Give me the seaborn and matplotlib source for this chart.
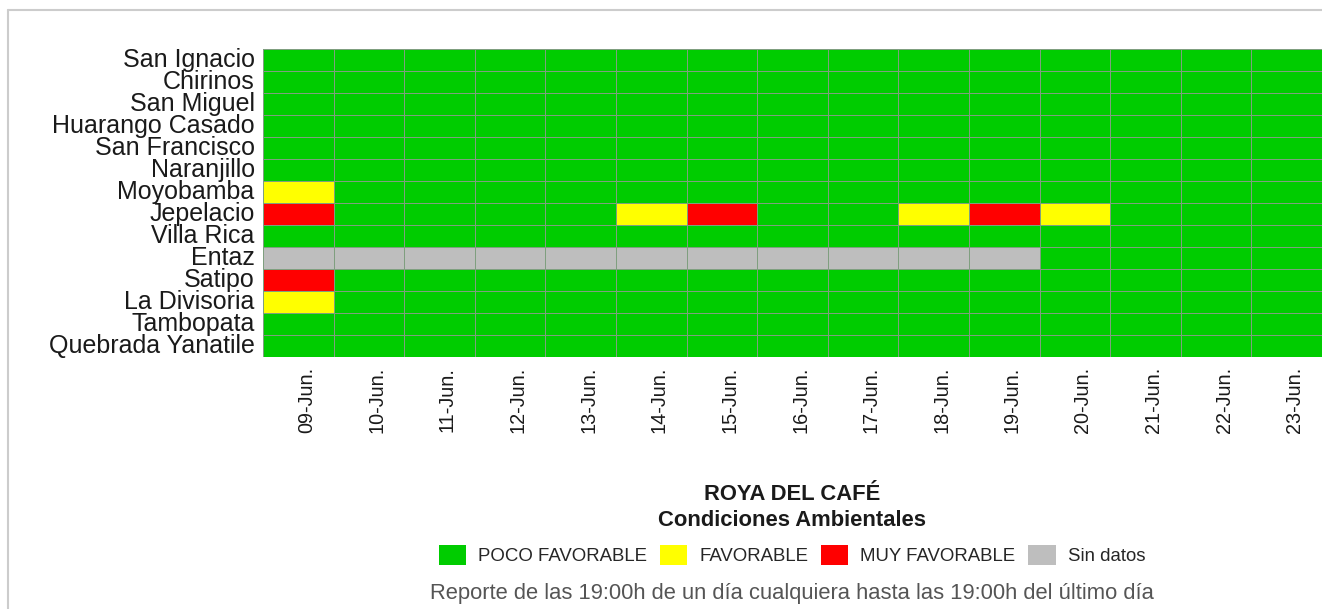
import matplotlib
matplotlib.use('Agg')
import matplotlib.pyplot as plt
from matplotlib.colors import ListedColormap
from matplotlib.patches import Patch
from matplotlib.lines import Line2D
from matplotlib.transforms import ScaledTranslation
import seaborn as sns
import pandas as pd

# estaciones (filas) y fechas (columnas)
estaciones = ['San Ignacio', 'Chirinos', 'San Miguel', 'Huarango Casado', 'San Francisco',
              'Naranjillo', 'Moyobamba', 'Jepelacio', 'Villa Rica', 'Entaz', 'Satipo',
              'La Divisoria', 'Tambopata', 'Quebrada Yanatile']
fechas = ['09-Jun.', '10-Jun.', '11-Jun.', '12-Jun.', '13-Jun.', '14-Jun.', '15-Jun.',
          '16-Jun.', '17-Jun.', '18-Jun.', '19-Jun.', '20-Jun.', '21-Jun.', '22-Jun.', '23-Jun.']

# 0 = poco favorable, 1 = favorable, 2 = muy favorable, 3 = sin datos
estado = [
    [0, 0, 0, 0, 0, 0, 0, 0, 0, 0, 0, 0, 0, 0, 0],  # San Ignacio
    [0, 0, 0, 0, 0, 0, 0, 0, 0, 0, 0, 0, 0, 0, 0],  # Chirinos
    [0, 0, 0, 0, 0, 0, 0, 0, 0, 0, 0, 0, 0, 0, 0],  # San Miguel
    [0, 0, 0, 0, 0, 0, 0, 0, 0, 0, 0, 0, 0, 0, 0],  # Huarango Casado
    [0, 0, 0, 0, 0, 0, 0, 0, 0, 0, 0, 0, 0, 0, 0],  # San Francisco
    [0, 0, 0, 0, 0, 0, 0, 0, 0, 0, 0, 0, 0, 0, 0],  # Naranjillo
    [1, 0, 0, 0, 0, 0, 0, 0, 0, 0, 0, 0, 0, 0, 0],  # Moyobamba
    [2, 0, 0, 0, 0, 1, 2, 0, 0, 1, 2, 1, 0, 0, 0],  # Jepelacio
    [0, 0, 0, 0, 0, 0, 0, 0, 0, 0, 0, 0, 0, 0, 0],  # Villa Rica
    [3, 3, 3, 3, 3, 3, 3, 3, 3, 3, 3, 0, 0, 0, 0],  # Entaz
    [2, 0, 0, 0, 0, 0, 0, 0, 0, 0, 0, 0, 0, 0, 0],  # Satipo
    [1, 0, 0, 0, 0, 0, 0, 0, 0, 0, 0, 0, 0, 0, 0],  # La Divisoria
    [0, 0, 0, 0, 0, 0, 0, 0, 0, 0, 0, 0, 0, 0, 0],  # Tambopata
    [0, 0, 0, 0, 0, 0, 0, 0, 0, 0, 0, 0, 0, 0, 0],  # Quebrada Yanatile
]

categorias = ['POCO FAVORABLE', 'FAVORABLE', 'MUY FAVORABLE', 'Sin datos']
colores = ['#00CC00', '#FFFF00', '#FF0000', '#BEBEBE']

df = pd.DataFrame(estado, index=estaciones, columns=fechas)

sns.set_style('white')
plt.rcParams['font.family'] = ['Liberation Sans', 'DejaVu Sans']

fig = plt.figure(figsize=(13.22, 6.09), dpi=100)
ax = fig.add_axes([263 / 1322, 1 - 357 / 609, 1 - 263 / 1322, (357 - 49) / 609])

sns.heatmap(df, cmap=ListedColormap(colores), vmin=-0.5, vmax=3.5, cbar=False,
            linewidths=0.5, linecolor='#7f9f7f', ax=ax)

ax.set_xlabel('')
ax.set_ylabel('')
ax.tick_params(axis='both', length=0)
ax.tick_params(axis='y', pad=6)
ax.tick_params(axis='x', pad=7)
ax.set_yticklabels(estaciones, rotation=0, fontsize=18, color='#1a1a1a')
ax.set_xticklabels(fechas, rotation=90, fontsize=14.3, color='#1a1a1a')
desplaza = ScaledTranslation(8 / 100, 0, fig.dpi_scale_trans)
for lbl in ax.get_xticklabels():
    lbl.set_transform(lbl.get_transform() + desplaza)

# marco exterior
fig.add_artist(Line2D([8 / 1322, 1], [1 - 10 / 609, 1 - 10 / 609], color='#cccccc', lw=1.5))
fig.add_artist(Line2D([8 / 1322, 8 / 1322], [0, 1 - 10 / 609], color='#cccccc', lw=1.5))

cx = 792 / 1322
fig.text(cx, 1 - 495 / 609, 'ROYA DEL CAFÉ', ha='center', va='center',
         fontsize=15.8, fontweight='bold', color='#1a1a1a')
fig.text(cx, 1 - 520 / 609, 'Condiciones Ambientales', ha='center', va='center',
         fontsize=15.8, fontweight='bold', color='#1a1a1a')

handles = [Patch(facecolor=c, edgecolor='none', label=l) for c, l in zip(colores, categorias)]
fig.legend(handles=handles, loc='center', bbox_to_anchor=(cx, 1 - 555 / 609), ncol=4,
           frameon=False, fontsize=13.45, handlelength=1.45, handleheight=1.34,
           handletextpad=0.64, columnspacing=0.7, borderpad=0)

fig.text(cx, 1 - 594 / 609,
         'Reporte de las 19:00h de un día cualquiera hasta las 19:00h del último día',
         ha='center', va='center', fontsize=15.8, color='#555555')

plt.savefig('out.png', dpi=100)
